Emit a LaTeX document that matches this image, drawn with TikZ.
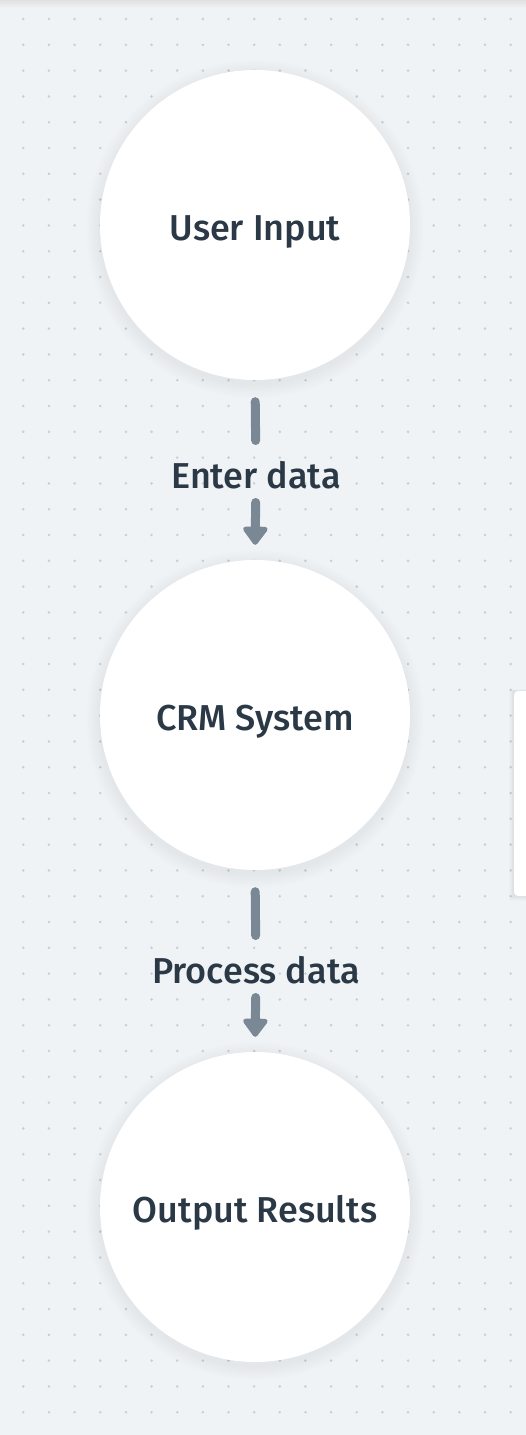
\documentclass[tikz,border=0pt]{standalone}
\usepackage{fontspec}
\setmainfont{Fira Sans Medium}
\usetikzlibrary{arrows.meta}
\definecolor{bgc}{HTML}{EFF3F6}
\definecolor{dotc}{HTML}{C6CFD8}
\definecolor{txtc}{HTML}{2B3946}
\definecolor{arrc}{HTML}{7A8896}
\newcommand{\stagetext}[1]{\raisebox{-15pt}[0pt][0pt]{#1}}
\tikzset{
  stage/.style={circle, fill=white, minimum size=310pt, inner sep=0pt, text=txtc, font=\fontsize{36}{40}\selectfont},
  lab/.style={inner sep=0pt, text=txtc, font=\fontsize{36}{40}\selectfont},
  conn/.style={draw=arrc, line width=9pt, line cap=round},
  connarrow/.style={conn, -{Triangle[width=28pt,length=20pt,round]}},
}
\begin{document}
\begin{tikzpicture}[x=1pt,y=-1pt]
\useasboundingbox (0,0) rectangle (526,1435);
\fill[bgc] (0,0) rectangle (526,1435);
% top shadow
\shade[top color=black!12, bottom color=bgc] (0,0) rectangle (526,8);
% dots
\foreach \i in {0,...,19}{
  \foreach \j in {0,...,54}{
    \fill[dotc] ({23.3+25.65*\i},{19+25.8*\j}) circle (1.4);
  }
}
% right side card
\foreach \k in {1,...,6}{
  \fill[black, opacity=0.012] ({514-\k*0.8},{691-\k*0.3}) rectangle (530,{896+\k*0.8});
}
\fill[white, rounded corners=4pt] (514,691) rectangle (540,896);
% circle shadows
\foreach \cy in {225,715,1207}{
  \foreach \k in {1,...,12}{
    \fill[black, opacity=0.005] (255,{\cy+4}) circle ({155+\k*1.2});
  }
}
\node[stage] (u) at (255,225) {\stagetext{User Input}};
\node[stage] (c) at (255,715) {\stagetext{CRM System}};
\node[stage] (o) at (255,1207) {\stagetext{Output Results}};
\node[lab] (l1) at (256,475) {Enter data};
\node[lab] (l2) at (256,970) {Process data};
\draw[conn, shorten <=21.5pt, shorten >=34.5pt] (u.south) -- (l1.center);
\draw[connarrow, shorten <=27.5pt, shorten >=15pt] (l1.center) -- (c.north);
\draw[conn, shorten <=21.5pt, shorten >=34.5pt] (c.south) -- (l2.center);
\draw[connarrow, shorten <=27.5pt, shorten >=15pt] (l2.center) -- (o.north);
\end{tikzpicture}
\end{document}
